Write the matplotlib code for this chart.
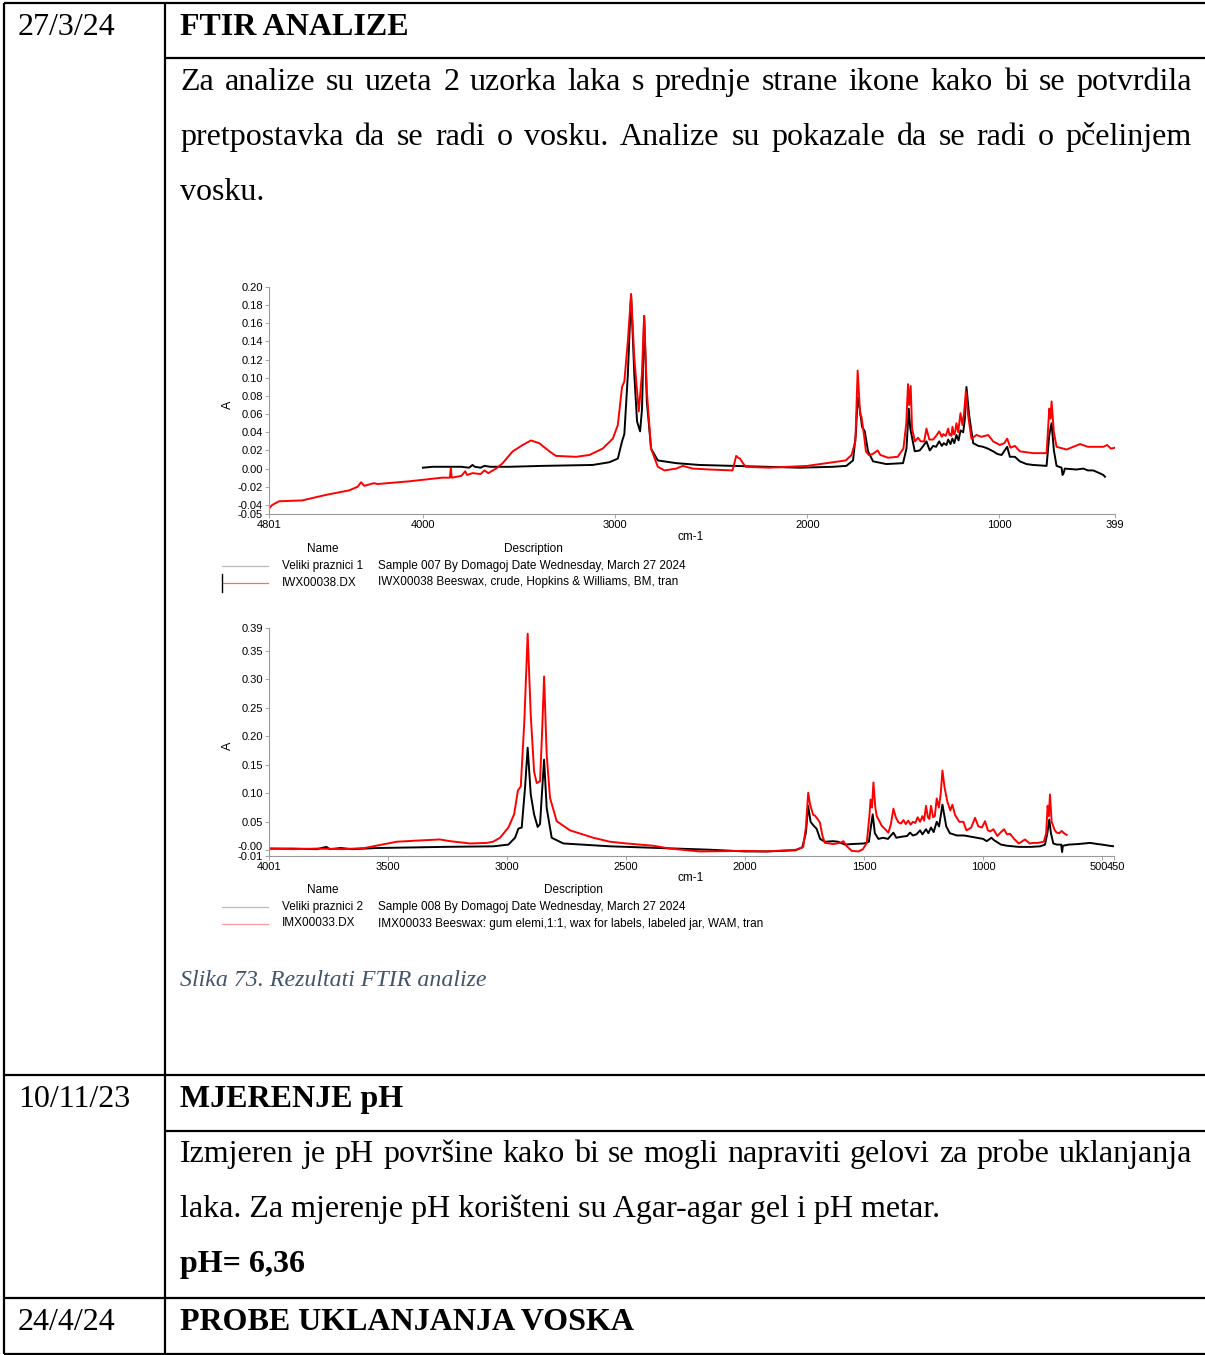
import matplotlib.pyplot as plt
from matplotlib.transforms import ScaledTranslation

# FTIR spectrum 1: (wavenumber cm-1, absorbance)
red1 = [(4801, -0.044), (4784, -0.040), (4749, -0.036), (4627, -0.035), (4506, -0.029),
        (4384, -0.024), (4340, -0.020), (4322, -0.015), (4305, -0.019), (4255, -0.016),
        (4237, -0.017), (4072, -0.014), (3900, -0.010), (3860, -0.010), (3855, 0.000),
        (3850, -0.010), (3800, -0.008), (3780, -0.003), (3770, -0.007), (3742, -0.005),
        (3700, -0.006), (3680, -0.002), (3660, -0.005), (3620, 0.000), (3585, 0.006),
        (3533, 0.019), (3481, 0.026), (3438, 0.031), (3395, 0.028), (3342, 0.019),
        (3308, 0.014), (3203, 0.013), (3134, 0.015), (3065, 0.022), (3012, 0.033),
        (2986, 0.048), (2964, 0.090), (2952, 0.096), (2934, 0.140), (2917, 0.192),
        (2900, 0.121), (2877, 0.063), (2861, 0.103), (2849, 0.168), (2835, 0.085),
        (2813, 0.022), (2778, 0.002), (2743, -0.002), (2682, 0.000), (2648, 0.003),
        (2596, 0.000), (2509, -0.001), (2400, -0.002), (2389, -0.002), (2370, 0.014),
        (2360, 0.012), (2350, 0.011), (2335, 0.006), (2320, 0.002), (2200, 0.001),
        (2000, 0.003), (1900, 0.006), (1800, 0.009), (1770, 0.015), (1750, 0.030),
        (1738, 0.108), (1725, 0.059), (1718, 0.057), (1705, 0.037), (1695, 0.019),
        (1680, 0.015), (1660, 0.016), (1634, 0.020), (1620, 0.015), (1580, 0.012),
        (1530, 0.013), (1500, 0.022), (1485, 0.050), (1476, 0.093), (1470, 0.070),
        (1462, 0.091), (1455, 0.044), (1440, 0.030), (1424, 0.034), (1410, 0.030),
        (1392, 0.030), (1380, 0.044), (1365, 0.032), (1345, 0.032), (1330, 0.036),
        (1314, 0.041), (1300, 0.035), (1293, 0.038), (1280, 0.036), (1267, 0.044),
        (1260, 0.037), (1255, 0.038), (1250, 0.036), (1245, 0.046), (1238, 0.038),
        (1233, 0.038), (1224, 0.050), (1215, 0.040), (1203, 0.061), (1193, 0.048),
        (1185, 0.060), (1175, 0.085), (1163, 0.058), (1146, 0.033), (1120, 0.037),
        (1094, 0.035), (1059, 0.037), (1033, 0.030), (998, 0.026), (975, 0.028),
        (960, 0.033), (943, 0.023), (920, 0.025), (894, 0.019), (825, 0.017),
        (755, 0.017), (741, 0.066), (735, 0.055), (729, 0.074), (717, 0.040),
        (703, 0.024), (651, 0.021), (581, 0.027), (540, 0.024), (512, 0.024),
        (460, 0.024), (440, 0.026), (420, 0.022), (399, 0.023)]

black1 = [(4000, 0.001), (3950, 0.002), (3898, 0.002), (3850, 0.002), (3800, 0.002),
          (3760, 0.001), (3742, 0.004), (3730, 0.002), (3700, 0.001), (3680, 0.003),
          (3650, 0.002), (3551, 0.002), (3377, 0.003), (3117, 0.004), (3030, 0.007),
          (2986, 0.011), (2964, 0.030), (2952, 0.038), (2934, 0.103), (2917, 0.192),
          (2900, 0.103), (2886, 0.052), (2870, 0.041), (2860, 0.066), (2849, 0.168),
          (2835, 0.074), (2813, 0.022), (2778, 0.009), (2682, 0.006), (2561, 0.004),
          (2214, 0.002), (2040, 0.001), (1866, 0.002), (1797, 0.003), (1762, 0.009),
          (1748, 0.037), (1738, 0.078), (1727, 0.066), (1715, 0.046), (1701, 0.041),
          (1684, 0.019), (1658, 0.008), (1589, 0.005), (1502, 0.006), (1484, 0.022),
          (1472, 0.066), (1464, 0.044), (1441, 0.019), (1415, 0.020), (1400, 0.024),
          (1380, 0.030), (1363, 0.020), (1345, 0.025), (1330, 0.024), (1314, 0.030),
          (1300, 0.025), (1290, 0.028), (1276, 0.026), (1267, 0.032), (1255, 0.027),
          (1245, 0.033), (1235, 0.028), (1224, 0.037), (1213, 0.031), (1203, 0.042),
          (1189, 0.040), (1180, 0.055), (1172, 0.090), (1158, 0.059), (1137, 0.028),
          (1110, 0.025), (1085, 0.024), (1060, 0.022), (1033, 0.019), (1010, 0.016),
          (989, 0.015), (960, 0.024), (946, 0.013), (920, 0.013), (894, 0.008),
          (860, 0.005), (825, 0.004), (755, 0.003), (741, 0.037), (729, 0.050),
          (717, 0.020), (703, 0.003), (677, 0.001), (672, -0.007), (668, -0.006),
          (660, 0.000), (600, -0.001), (564, 0.000), (540, -0.002), (512, -0.002),
          (480, -0.005), (460, -0.007), (451, -0.009)]

# FTIR spectrum 2
red2 = [(4001, 0.003), (3900, 0.002), (3800, 0.003), (3689, 0.002), (3600, 0.004),
        (3563, 0.007), (3465, 0.015), (3381, 0.017), (3283, 0.019), (3240, 0.016),
        (3156, 0.012), (3086, 0.013), (3060, 0.015), (3030, 0.022), (2995, 0.040),
        (2971, 0.063), (2955, 0.105), (2943, 0.112), (2928, 0.226), (2914, 0.380),
        (2901, 0.237), (2887, 0.138), (2876, 0.118), (2862, 0.121), (2854, 0.200),
        (2845, 0.305), (2834, 0.167), (2820, 0.092), (2792, 0.051), (2736, 0.035),
        (2638, 0.022), (2568, 0.015), (2498, 0.012), (2386, 0.008), (2316, 0.003),
        (2190, -0.002), (2000, -0.001), (1910, -0.002), (1784, 0.001), (1756, 0.006),
        (1745, 0.040), (1735, 0.101), (1727, 0.080), (1721, 0.072), (1714, 0.062),
        (1707, 0.061), (1696, 0.055), (1686, 0.049), (1675, 0.025), (1665, 0.013),
        (1630, 0.011), (1600, 0.013), (1587, 0.016), (1575, 0.008), (1552, -0.001),
        (1524, -0.002), (1505, 0.002), (1489, 0.013), (1478, 0.060), (1473, 0.089),
        (1467, 0.075), (1461, 0.119), (1453, 0.075), (1447, 0.060), (1426, 0.043),
        (1398, 0.031), (1388, 0.045), (1377, 0.073), (1367, 0.058), (1356, 0.049),
        (1345, 0.047), (1335, 0.053), (1325, 0.046), (1315, 0.052), (1305, 0.045),
        (1295, 0.050), (1285, 0.048), (1275, 0.058), (1265, 0.050), (1255, 0.060),
        (1248, 0.052), (1240, 0.078), (1232, 0.058), (1226, 0.055), (1219, 0.078),
        (1210, 0.058), (1203, 0.060), (1195, 0.091), (1186, 0.075), (1178, 0.100),
        (1171, 0.140), (1162, 0.110), (1150, 0.085), (1138, 0.070), (1129, 0.080),
        (1118, 0.062), (1100, 0.050), (1083, 0.050), (1070, 0.035), (1050, 0.040),
        (1034, 0.057), (1020, 0.042), (1005, 0.040), (992, 0.051), (980, 0.035),
        (970, 0.033), (957, 0.037), (940, 0.025), (925, 0.032), (912, 0.037),
        (900, 0.028), (887, 0.029), (870, 0.020), (850, 0.012), (824, 0.019),
        (805, 0.012), (789, 0.013), (770, 0.013), (745, 0.015), (735, 0.030),
        (729, 0.078), (724, 0.060), (719, 0.098), (712, 0.050), (700, 0.036),
        (691, 0.031), (680, 0.030), (670, 0.034), (660, 0.030), (649, 0.027)]

black2 = [(4001, 0.003), (3900, 0.003), (3800, 0.002), (3760, 0.006), (3745, 0.002),
          (3700, 0.004), (3650, 0.002), (3549, 0.004), (3400, 0.005), (3268, 0.006),
          (3058, 0.007), (2995, 0.010), (2967, 0.022), (2953, 0.038), (2939, 0.040),
          (2925, 0.110), (2914, 0.180), (2901, 0.098), (2887, 0.063), (2872, 0.041),
          (2862, 0.046), (2854, 0.100), (2845, 0.159), (2834, 0.074), (2813, 0.022),
          (2764, 0.012), (2568, 0.007), (2358, 0.004), (2148, 0.001), (2000, -0.002),
          (1910, -0.002), (1790, 0.000), (1760, 0.005), (1745, 0.030), (1735, 0.078),
          (1725, 0.050), (1712, 0.043), (1700, 0.038), (1685, 0.020), (1665, 0.015),
          (1630, 0.016), (1610, 0.015), (1580, 0.010), (1550, 0.011), (1500, 0.012),
          (1480, 0.015), (1472, 0.040), (1464, 0.063), (1455, 0.030), (1440, 0.020),
          (1420, 0.022), (1400, 0.020), (1377, 0.031), (1365, 0.022), (1340, 0.024),
          (1320, 0.025), (1307, 0.031), (1295, 0.026), (1280, 0.028), (1265, 0.035),
          (1255, 0.028), (1240, 0.037), (1230, 0.030), (1219, 0.040), (1208, 0.032),
          (1195, 0.050), (1185, 0.042), (1171, 0.080), (1155, 0.042), (1140, 0.030),
          (1110, 0.026), (1080, 0.026), (1040, 0.023), (1000, 0.020), (985, 0.016),
          (965, 0.022), (955, 0.018), (940, 0.014), (925, 0.010), (900, 0.008),
          (850, 0.006), (800, 0.006), (760, 0.007), (740, 0.010), (730, 0.030),
          (722, 0.054), (715, 0.030), (705, 0.012), (690, 0.010), (672, 0.010),
          (668, -0.003), (665, 0.008), (640, 0.010), (600, 0.011), (550, 0.013),
          (520, 0.011), (500, 0.010), (470, 0.008), (450, 0.007)]

xticks1 = [4801, 4000, 3000, 2000, 1000, 399]
yticks1 = [0.20, 0.18, 0.16, 0.14, 0.12, 0.10, 0.08, 0.06, 0.04, 0.02, 0.00, -0.02, -0.04, -0.05]
xticks2 = [4001, 3500, 3000, 2500, 2000, 1500, 1000, 500, 450]
yticks2 = [0.39, 0.35, 0.30, 0.25, 0.20, 0.15, 0.10, 0.05, 0.00, -0.01]
ylabels2 = ['0.39', '0.35', '0.30', '0.25', '0.20', '0.15', '0.10', '0.05', '-0.00', '-0.01']

names1 = ['Veliki praznici 1', 'IWX00038.DX']
desc1 = ['Sample 007 By Domagoj Date Wednesday, March 27 2024',
         'IWX00038 Beeswax, crude, Hopkins & Williams, BM, tran']
names2 = ['Veliki praznici 2', 'IMX00033.DX']
desc2 = ['Sample 008 By Domagoj Date Wednesday, March 27 2024',
         'IMX00033 Beeswax: gum elemi,1:1, wax for labels, labeled jar, WAM, tran']

plt.rcParams['font.family'] = 'Liberation Sans'
W, H = 1205, 1355
fig = plt.figure(figsize=(W / 100, H / 100), dpi=100)
bg = fig.add_axes([0, 0, 1, 1])
bg.set_xlim(0, W)
bg.set_ylim(H, 0)
bg.axis('off')

# table grid
lw = 1.6
for y, x0 in [(3, 4), (58, 165), (1075, 4), (1131, 165), (1298, 4), (1354, 4)]:
    bg.plot([x0, W], [y, y], color='black', lw=lw, solid_capstyle='butt')
for x in [4, 165]:
    bg.plot([x, x], [3, 1354], color='black', lw=lw, solid_capstyle='butt')

serif = 'Liberation Serif'
fs = 23
rend = fig.canvas.get_renderer()


def justify(line, y, x0=180, x1=1192, **kw):
    words = line.split()
    tt = [bg.text(0, y, w, family=serif, fontsize=fs, va='baseline', **kw) for w in words]
    ws = [t.get_window_extent(rend).width for t in tt]
    gap = (x1 - x0 - sum(ws)) / (len(words) - 1)
    x = x0
    for t, w in zip(tt, ws):
        t.set_x(x)
        x += w + gap


def put(x, y, s, **kw):
    bg.text(x, y, s, family=serif, fontsize=fs, va='baseline', **kw)


put(18, 35, '27/3/24')
put(180, 35, 'FTIR ANALIZE', weight='bold')
justify('Za analize su uzeta 2 uzorka laka s prednje strane ikone kako bi se potvrdila', 90)
justify('pretpostavka da se radi o vosku. Analize su pokazale da se radi o pčelinjem', 145)
put(180, 200, 'vosku.')
bg.text(180, 986, 'Slika 73. Rezultati FTIR analize', family=serif, fontsize=17.2,
        style='italic', color='#44546A', va='baseline')

put(18, 1107, '10/11/23')
put(180, 1107, 'MJERENJE pH', weight='bold')
justify('Izmjeren je pH površine kako bi se mogli napraviti gelovi za probe uklanjanja', 1162)
put(180, 1217, 'laka. Za mjerenje pH korišteni su Agar-agar gel i pH metar.')
put(180, 1272, 'pH= 6,36', weight='bold')
put(18, 1330, '24/4/24')
put(180, 1330, 'PROBE UKLANJANJA VOSKA', weight='bold')


def spectrum(top, bottom, right, xlim, ylim, xticks, yticks, ylabels, series):
    ax = fig.add_axes([269 / W, 1 - bottom / H, (right - 269) / W, (bottom - top) / H])
    for data, col in series:
        wn, a = zip(*data)
        ax.plot(wn, a, color=col, lw=1.4)
    ax.set_xlim(*xlim)
    ax.set_ylim(*ylim)
    ax.set_xticks(xticks)
    ax.set_xticklabels([str(t) for t in xticks])
    ax.set_yticks(yticks)
    ax.set_yticklabels(ylabels)
    for s in ['top', 'right']:
        ax.spines[s].set_visible(False)
    for s in ['left', 'bottom']:
        ax.spines[s].set_color('#999999')
        ax.spines[s].set_linewidth(0.8)
    ax.tick_params(length=3, width=0.6, color='#999999', labelsize=8, pad=1.5)
    ax.patch.set_alpha(0)
    return ax


ax1 = spectrum(287, 514, 1115, (4801, 399), (-0.05, 0.20), xticks1, yticks1,
               ['%.2f' % v for v in yticks1], [(black1, 'black'), (red1, 'red')])
ax2 = spectrum(628, 856, 1114, (4001, 450), (-0.01, 0.39), xticks2, yticks2,
               ylabels2, [(black2, 'black'), (red2, 'red')])

# squeezed labels like the instrument software
lab = ax2.get_yticklabels()
lab[-2].set_transform(lab[-2].get_transform() + ScaledTranslation(0, 0.04, fig.dpi_scale_trans))
xl = ax2.get_xticklabels()
xl[-2].set_transform(xl[-2].get_transform() + ScaledTranslation(-0.03, 0, fig.dpi_scale_trans))
xl[-1].set_transform(xl[-1].get_transform() + ScaledTranslation(0.02, 0, fig.dpi_scale_trans))

# axis labels and legends
for ya, yc, yn, xd, names, desc, redc in [(405, 537, 549, 533, names1, desc1, '#f07070'),
                                           (746, 878, 890, 573, names2, desc2, '#ff9a9a')]:
    bg.text(228, ya, 'A', rotation=90, ha='center', va='center', fontsize=9)
    bg.text(691, yc, 'cm-1', ha='center', va='center', fontsize=8.5)
    bg.text(323, yn, 'Name', ha='center', va='center', fontsize=8.5)
    bg.text(xd, yn, 'Description', ha='center', va='center', fontsize=8.5)
    for i, (n, d) in enumerate(zip(names, desc)):
        yy = yn + 17 + 16.5 * i
        bg.plot([222, 268], [yy, yy], color='#bbbbbb' if i == 0 else redc, lw=0.9)
        bg.text(282, yy, n, va='center', fontsize=8.5)
        bg.text(378, yy, d, va='center', fontsize=8.5)
bg.plot([222, 222], [574, 592], color='black', lw=1)

fig.savefig('out.png', dpi=100)
